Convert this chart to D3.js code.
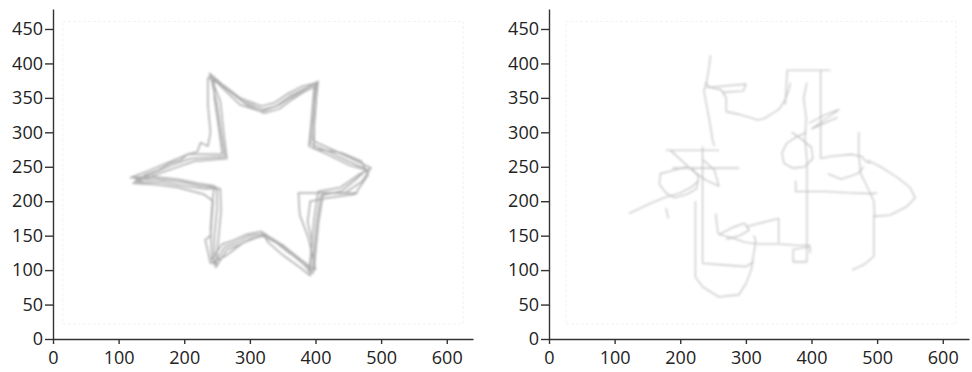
<!DOCTYPE html>
<html>
<head>
<meta charset="utf-8">
<script src="https://cdn.jsdelivr.net/npm/d3@7"></script>
<style>
  body { margin: 0; background: #fff; }
  svg { display: block; }
  .axis text { font-family: "Open Sans", "Noto Sans", sans-serif; font-size: 18px; fill: #222; }
  .axis path, .axis line { stroke: #333; stroke-width: 1.4; }
</style>
</head>
<body>
<svg id="svg"></svg>
<script>
// tick labels
const xTicks = [0, 100, 200, 300, 400, 500, 600];
const yTicks = [0, 50, 100, 150, 200, 250, 300, 350, 400, 450];

// faint frame traced around the drawing area
const frameLeft = [[15, 22], [625, 22], [625, 461], [15, 461], [15, 22]];
const frameRight = [[26, 22], [620, 22], [620, 461], [26, 461], [26, 22]];

// left panel: traced star, several attempts
const starA = [[240,383],[262,365],[290,345],[320,333],[340,338],[360,352],[380,362],[400,370],[396,330],[392,284],[420,272],[450,258],[478,246],[462,232],[440,215],[408,208],[402,170],[398,130],[396,95],[380,110],[355,130],[335,145],[320,152],[300,150],[280,140],[262,134],[245,108],[246,150],[250,190],[250,220],[225,222],[195,228],[160,232],[125,232],[150,240],[180,252],[210,262],[262,265],[256,300],[250,340],[240,383]];
const starB = [[245,378],[268,360],[295,340],[322,328],[345,334],[365,348],[385,360],[398,366],[394,320],[390,280],[418,268],[452,252],[482,244],[470,228],[445,212],[412,212],[405,172],[400,125],[398,100],[378,115],[352,135],[330,148],[318,156],[296,152],[275,143],[258,138],[242,115],[240,160],[243,200],[246,222],[220,226],[190,232],[150,236],[118,234],[145,244],[175,256],[205,268],[258,268],[252,310],[246,350],[245,378]];
const starC = [[238,386],[260,368],[285,350],[318,338],[338,343],[358,356],[378,366],[402,372],[400,330],[396,288],[425,275],[455,262],[485,248],[465,238],[438,220],[404,214],[398,175],[394,135],[392,92],[376,104],[350,122],[328,140],[322,150],[302,146],[282,136],[265,130],[248,104],[252,145],[256,185],[255,218],[230,218],[200,222],[165,228],[128,228],[155,238],[185,248],[215,258],[265,262],[260,300],[255,345],[238,386]];
const starD = [[236,380],[236,340],[240,300],[236,280],[225,285],[220,272],[205,268],[195,260],[178,255],[160,245],[140,238],[122,226],[160,224],[190,220],[230,210],[244,200],[240,150],[232,144],[240,110],[262,120],[290,140],[318,150],[340,140],[360,125],[385,110],[390,98],[395,140],[388,170],[392,200],[420,205],[460,210],[480,238],[470,258],[440,270],[398,276],[398,320],[404,374],[380,360],[345,340],[318,330],[285,340],[250,372],[236,380]];
const starE = [[464,212],[420,212],[374,212],[376,180],[388,150],[396,120],[400,100]];

// right panel: scribbled attempt
const scribble1 = [[246,412],[244,395],[240,372],[236,360],[240,340],[244,320],[249,290],[252,280]];
const scribble2 = [[238,372],[245,365],[262,362],[270,350],[270,330],[290,326],[305,322],[318,318],[328,320],[345,330],[352,335],[360,348],[365,360],[368,372]];
const scribble3 = [[240,365],[300,370],[296,360],[265,358]];
const scribble4 = [[360,340],[363,390],[428,390],[414,390],[414,300],[414,262]];
const scribble5 = [[393,372],[388,350],[392,320],[390,290],[393,260],[393,200],[393,150],[393,112],[372,112],[372,130],[398,134],[398,125]];
const scribble6 = [[370,300],[385,290],[400,278],[402,262],[390,250],[372,248],[358,255],[355,270],[362,284],[375,292],[392,300]];
const scribble7 = [[396,313],[420,325],[442,333],[400,305],[440,322]];
const scribble8 = [[414,262],[428,265],[460,268],[477,265],[482,258],[490,255]];
const scribble9 = [[425,240],[445,232],[470,240],[480,250]];
const scribble10 = [[376,230],[376,214],[420,214],[460,212],[492,211],[500,212]];
const scribble11 = [[472,300],[472,268],[475,240],[488,215],[495,200],[496,178],[520,180],[545,192],[558,205],[550,220],[530,235],[505,250],[485,260]];
const scribble12 = [[495,180],[495,150],[495,120],[480,108],[462,100]];
const scribble13 = [[178,274],[259,274]];
const scribble14 = [[185,274],[218,245],[240,230],[259,222],[252,245],[235,260]];
const scribble15 = [[188,248],[290,248]];
const scribble16 = [[210,250],[190,245],[170,240],[168,225],[178,212],[192,205],[210,210],[225,218],[228,235],[218,248]];
const scribble17 = [[122,182],[150,195],[175,205],[200,212],[218,221],[228,230]];
const scribble18 = [[178,190],[182,175]];
const scribble19 = [[234,279],[234,240],[234,200],[234,160],[234,110],[260,108],[300,105],[312,112]];
const scribble20 = [[223,200],[223,160],[223,120],[223,90],[235,75],[259,61],[275,63],[289,64],[300,80],[308,100],[313,130],[315,144],[312,150]];
const scribble21 = [[254,182],[256,165],[258,152],[275,148],[300,140],[320,138],[350,138],[375,136],[398,136]];
const scribble22 = [[300,163],[350,175],[350,139]];
const scribble23 = [[260,152],[280,162],[298,168],[305,158],[290,150],[270,145]];

const leftLines = [starA, starB, starC, starD, starE];
const rightLines = [scribble1, scribble2, scribble3, scribble4, scribble5, scribble6, scribble7, scribble8,
  scribble9, scribble10, scribble11, scribble12, scribble13, scribble14, scribble15, scribble16, scribble17,
  scribble18, scribble19, scribble20, scribble21, scribble22, scribble23];

const width = 972, height = 372;
const panels = [
  {left: 53, lines: leftLines, frame: frameLeft, color: '#ababab', w: 1.5},
  {left: 549, lines: rightLines, frame: frameRight, color: '#bdbdbd', w: 1.1}
];
const plotW = 420, plotTop = 9, plotBottom = 339;

const svg = d3.select('#svg').attr('width', width).attr('height', height);

const defs = svg.append('defs');
defs.append('filter').attr('id', 'soft')
  .append('feGaussianBlur').attr('stdDeviation', 0.8);

panels.forEach(p => {
  const x = d3.scaleLinear().domain([0, 640]).range([p.left, p.left + plotW]);
  const y = d3.scaleLinear().domain([0, 479]).range([plotBottom, plotTop]);
  const line = d3.line().x(d => x(d[0])).y(d => y(d[1]));

  const g = svg.append('g');

  g.append('path')
    .attr('d', line(p.frame))
    .attr('fill', 'none')
    .attr('stroke', '#f2f2f2')
    .attr('stroke-dasharray', '3,2');

  g.append('g')
    .attr('filter', 'url(#soft)')
    .selectAll('path')
    .data(p.lines)
    .enter()
    .append('path')
    .attr('d', line)
    .attr('fill', 'none')
    .attr('stroke', p.color)
    .attr('stroke-width', p.w)
    .attr('stroke-linejoin', 'round');

  g.append('g')
    .attr('class', 'axis')
    .attr('transform', `translate(0,${plotBottom})`)
    .call(d3.axisBottom(x).tickValues(xTicks).tickSize(5).tickPadding(7).tickSizeOuter(0));

  g.append('g')
    .attr('class', 'axis')
    .attr('transform', `translate(${p.left},0)`)
    .call(d3.axisLeft(y).tickValues(yTicks).tickSize(8).tickPadding(2).tickSizeOuter(0));
});
</script>
</body>
</html>
